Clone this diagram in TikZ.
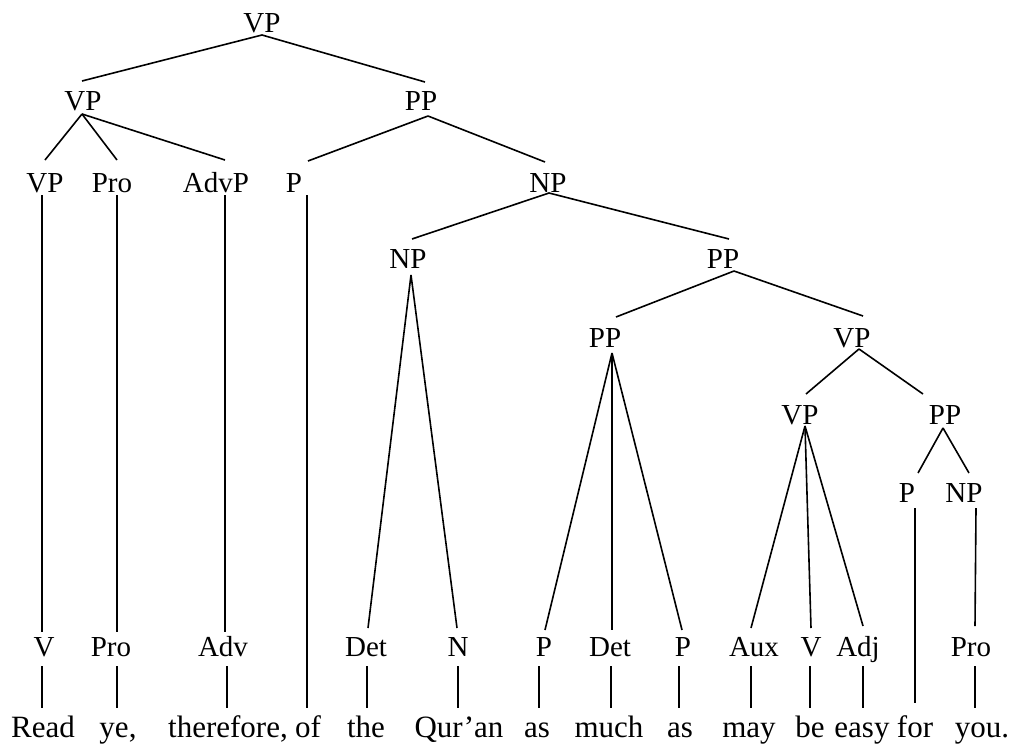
\documentclass[tikz,border=0pt]{standalone}
\usepackage{fontspec}
\setmainfont{Liberation Serif}
\begin{document}
\begin{tikzpicture}[x=1pt,y=-1pt,
  lbl/.style={inner sep=0pt, anchor=base, font=\fontsize{29}{30}\selectfont},
  word/.style={inner sep=0pt, anchor=base, font=\fontsize{31}{32}\selectfont},
  edge/.style={line width=1.6pt}]
\useasboundingbox (0,0) rectangle (1017,744);
% phrase nodes
\node[lbl] (n0) at (262,32) {VP};
\node[lbl] (n1a) at (83,110) {VP};
\node[lbl] (n1b) at (421,110) {PP};
\node[lbl] (n2a) at (45,192) {VP};
\node[lbl] (n2b) at (112,192) {Pro};
\node[lbl] (n2c) at (216,192) {AdvP};
\node[lbl] (n2d) at (294,192) {P};
\node[lbl] (n2e) at (548,192) {NP};
\node[lbl] (n3a) at (408,268) {NP};
\node[lbl] (n3b) at (723,268) {PP};
\node[lbl] (n4a) at (605,347) {PP};
\node[lbl] (n4b) at (852,347) {VP};
\node[lbl] (n5a) at (800,424) {VP};
\node[lbl] (n5b) at (945,424) {PP};
\node[lbl] (n6a) at (907,502) {P};
\node[lbl] (n6b) at (964,502) {NP};
% POS nodes
\node[lbl] (t1) at (44,656) {V};
\node[lbl] (t2) at (111,656) {Pro};
\node[lbl] (t3) at (223,656) {Adv};
\node[lbl] (t4) at (366,656) {Det};
\node[lbl] (t5) at (458,656) {N};
\node[lbl] (t6) at (544,656) {P};
\node[lbl] (t7) at (610,656) {Det};
\node[lbl] (t8) at (683,656) {P};
\node[lbl] (t9) at (754,656) {Aux};
\node[lbl] (t10) at (811,656) {V};
\node[lbl] (t11) at (858,656) {Adj};
\node[lbl] (t12) at (971,656) {Pro};
% words
\node[word] (w1) at (43,737) {Read};
\node[word] (w2) at (118,737) {ye,};
\node[word] (w3) at (228,737) {therefore,};
\node[word] (w4) at (308,737) {of};
\node[word] (w5) at (366,737) {the};
\node[word] (w6) at (459,737) {Qur’an};
\node[word] (w7) at (537,737) {as};
\node[word] (w8) at (609,737) {much};
\node[word] (w9) at (680,737) {as};
\node[word] (w10) at (749,737) {may};
\node[word] (w11) at (810,737) {be};
\node[word] (w12) at (862,737) {easy};
\node[word] (w13) at (915,737) {for};
\node[word] (w14) at (982,737) {you.};
% attachment points
\coordinate (n0b) at (262,35);
\coordinate (n1at) at (82,81);   \coordinate (n1ab) at (82,114);
\coordinate (n1bt) at (425,82);  \coordinate (n1bb) at (428,116);
\coordinate (n2at) at (45,160);  \coordinate (n2ab) at (42,195);
\coordinate (n2bt) at (117,160); \coordinate (n2bb) at (117,195);
\coordinate (n2ct) at (225,160); \coordinate (n2cb) at (225,195);
\coordinate (n2dt) at (308,161); \coordinate (n2db) at (307,195);
\coordinate (n2et) at (545,162); \coordinate (n2eb) at (549,193);
\coordinate (n3at) at (412,239); \coordinate (n3ab) at (411,275);
\coordinate (n3bt) at (729,239); \coordinate (n3bb) at (734,271);
\coordinate (n4at) at (616,317); \coordinate (n4ab) at (612,353);
\coordinate (n4bt) at (863,316); \coordinate (n4bb) at (859,349);
\coordinate (n5at) at (806,394); \coordinate (n5ab) at (805,426);
\coordinate (n5bt) at (923,394); \coordinate (n5bb) at (943,428);
\coordinate (n6at) at (918,473); \coordinate (n6ab) at (915,508);
\coordinate (n6bt) at (969,473); \coordinate (n6bb) at (976,508);
\coordinate (t1t) at (42,632);   \coordinate (t1b) at (42,666);
\coordinate (t2t) at (117,632);  \coordinate (t2b) at (117,666);
\coordinate (t3t) at (225,632);  \coordinate (t3b) at (227,666);
\coordinate (t4t) at (368,628);  \coordinate (t4b) at (367,666);
\coordinate (t5t) at (457,628);  \coordinate (t5b) at (458,666);
\coordinate (t6t) at (545,630);  \coordinate (t6b) at (539,666);
\coordinate (t7t) at (612,630);  \coordinate (t7b) at (611,666);
\coordinate (t8t) at (682,630);  \coordinate (t8b) at (679,666);
\coordinate (t9t) at (751,628);  \coordinate (t9b) at (751,666);
\coordinate (t10t) at (811,628); \coordinate (t10b) at (810,666);
\coordinate (t11t) at (863,626); \coordinate (t11b) at (863,666);
\coordinate (t12t) at (975,626); \coordinate (t12b) at (975,666);
\coordinate (w1t) at (42,708);
\coordinate (w2t) at (117,708);
\coordinate (w3t) at (227,708);
\coordinate (w4t) at (307,708);
\coordinate (w5t) at (367,708);
\coordinate (w6t) at (458,708);
\coordinate (w7t) at (539,708);
\coordinate (w8t) at (611,708);
\coordinate (w9t) at (679,708);
\coordinate (w10t) at (751,708);
\coordinate (w11t) at (810,708);
\coordinate (w12t) at (863,708);
\coordinate (w13t) at (915,703);
\coordinate (w14t) at (975,708);
% edges
\draw[edge] (n0b) -- (n1at);
\draw[edge] (n0b) -- (n1bt);
\draw[edge] (n1ab) -- (n2at);
\draw[edge] (n1ab) -- (n2bt);
\draw[edge] (n1ab) -- (n2ct);
\draw[edge] (n1bb) -- (n2dt);
\draw[edge] (n1bb) -- (n2et);
\draw[edge] (n2ab) -- (t1t);
\draw[edge] (n2bb) -- (t2t);
\draw[edge] (n2cb) -- (t3t);
\draw[edge] (n2db) -- (w4t);
\draw[edge] (n2eb) -- (n3at);
\draw[edge] (n2eb) -- (n3bt);
\draw[edge] (n3ab) -- (t4t);
\draw[edge] (n3ab) -- (t5t);
\draw[edge] (n3bb) -- (n4at);
\draw[edge] (n3bb) -- (n4bt);
\draw[edge] (n4ab) -- (t6t);
\draw[edge] (n4ab) -- (t7t);
\draw[edge] (n4ab) -- (t8t);
\draw[edge] (n4bb) -- (n5at);
\draw[edge] (n4bb) -- (n5bt);
\draw[edge] (n5ab) -- (t9t);
\draw[edge] (n5ab) -- (t10t);
\draw[edge] (n5ab) -- (t11t);
\draw[edge] (n5bb) -- (n6at);
\draw[edge] (n5bb) -- (n6bt);
\draw[edge] (n6ab) -- (w13t);
\draw[edge] (n6bb) -- (t12t);
\draw[edge] (t1b) -- (w1t);
\draw[edge] (t2b) -- (w2t);
\draw[edge] (t3b) -- (w3t);
\draw[edge] (t4b) -- (w5t);
\draw[edge] (t5b) -- (w6t);
\draw[edge] (t6b) -- (w7t);
\draw[edge] (t7b) -- (w8t);
\draw[edge] (t8b) -- (w9t);
\draw[edge] (t9b) -- (w10t);
\draw[edge] (t10b) -- (w11t);
\draw[edge] (t11b) -- (w12t);
\draw[edge] (t12b) -- (w14t);
\end{tikzpicture}
\end{document}
